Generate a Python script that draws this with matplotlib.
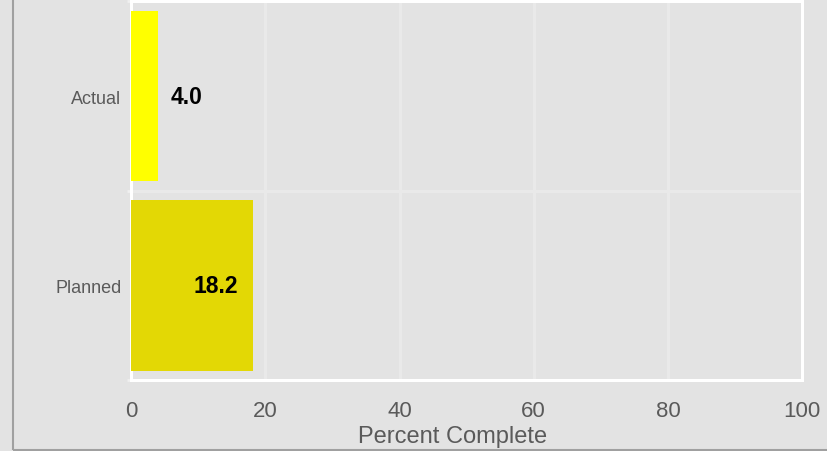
import matplotlib.pyplot as plt
from matplotlib.patches import Rectangle

categorias = ['Planned', 'Actual']
valores = [18.2, 4.0]
cores = ['#e3d805', '#ffff00']
rotulos = ['18.2', '4.0']
xticks = [0, 20, 40, 60, 80, 100]

fundo = '#e3e3e3'
cinza_txt = '#5a5a5a'

plt.rcParams['font.family'] = ['Liberation Sans', 'DejaVu Sans']

fig = plt.figure(figsize=(8.27, 4.52), dpi=100, facecolor=fundo)
ax = fig.add_axes([0.1585, 0.1565, 0.8115, 0.838])
ax.set_facecolor(fundo)

# borda cinza (esquerda e baixo)
fig.patches.append(Rectangle((12.5 / 827, 1.0 / 452), 1.0, 1.0, transform=fig.transFigure,
                             fill=False, edgecolor='#a0a0a0', linewidth=1.5))

posicoes = list(range(len(categorias)))
ax.barh(posicoes, valores, height=0.9, color=cores, zorder=3)

for i, v in enumerate(valores):
    if i == 1:
        ax.annotate(rotulos[i], (v, posicoes[i]), xytext=(9, 0), textcoords='offset points',
                    ha='left', va='center', fontsize=16.5, fontweight='bold', color='black', zorder=4)
    else:
        ax.annotate(rotulos[i], (v, posicoes[i]), xytext=(-11, 0), textcoords='offset points',
                    ha='right', va='center', fontsize=16.5, fontweight='bold', color='black', zorder=4)

ax.set_xlim(0, 100)
ax.set_ylim(-0.5, 1.5)
ax.set_xticks(xticks)
ax.set_xticklabels([str(t) for t in xticks])
ax.set_yticks(posicoes)
ax.set_yticklabels(categorias)
ax.set_yticks([-0.5, 0.5, 1.5], minor=True)

ax.tick_params(axis='x', length=0, pad=14, labelsize=16, labelcolor=cinza_txt)
ax.tick_params(axis='y', which='major', length=0, pad=7, labelsize=13, labelcolor=cinza_txt)
ax.tick_params(axis='y', which='minor', length=3, width=2, color='#f0f0f0')

for x in xticks[1:-1]:
    ax.axvline(x, color='#e9e9e9', linewidth=2.2, zorder=1)
ax.axhline(0.5, color='#e9e9e9', linewidth=2.2, zorder=1)

for s in ax.spines.values():
    s.set_color('white')
    s.set_linewidth(2.2)

ax.set_xlabel('Percent Complete', fontsize=17, color=cinza_txt)
ax.xaxis.set_label_coords(0.479, -0.118)

fig.savefig('out.png', dpi=100, facecolor=fundo)
